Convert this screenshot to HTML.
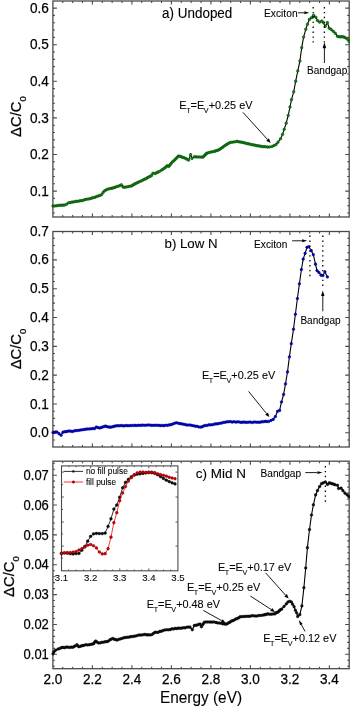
<!DOCTYPE html>
<html><head><meta charset="utf-8"><title>Capacitance spectra</title>
<style>html,body{margin:0;padding:0;background:#fff;}svg{display:block;}text{fill:#000;stroke:#000;stroke-width:0.25px;}text.a{stroke-width:0.08px;}text.t{stroke-width:0.1px;}</style></head>
<body><svg width="350" height="706" viewBox="0 0 350 706" style="font-family:'Liberation Sans',Arial,sans-serif">
<rect x="52.9" y="1.0" width="296.3" height="216.0" fill="none" stroke="#4a4a4a" stroke-width="1.3"/>
<path d="M62.77 1.0v2.0M62.77 217.0v-2.0M72.65 1.0v2.0M72.65 217.0v-2.0M82.52 1.0v2.0M82.52 217.0v-2.0M92.40 1.0v3.5M92.40 217.0v-3.5M102.28 1.0v2.0M102.28 217.0v-2.0M112.15 1.0v2.0M112.15 217.0v-2.0M122.03 1.0v2.0M122.03 217.0v-2.0M131.90 1.0v3.5M131.90 217.0v-3.5M141.78 1.0v2.0M141.78 217.0v-2.0M151.65 1.0v2.0M151.65 217.0v-2.0M161.52 1.0v2.0M161.52 217.0v-2.0M171.40 1.0v3.5M171.40 217.0v-3.5M181.27 1.0v2.0M181.27 217.0v-2.0M191.15 1.0v2.0M191.15 217.0v-2.0M201.03 1.0v2.0M201.03 217.0v-2.0M210.90 1.0v3.5M210.90 217.0v-3.5M220.78 1.0v2.0M220.78 217.0v-2.0M230.65 1.0v2.0M230.65 217.0v-2.0M240.53 1.0v2.0M240.53 217.0v-2.0M250.40 1.0v3.5M250.40 217.0v-3.5M260.27 1.0v2.0M260.27 217.0v-2.0M270.15 1.0v2.0M270.15 217.0v-2.0M280.03 1.0v2.0M280.03 217.0v-2.0M289.90 1.0v3.5M289.90 217.0v-3.5M299.77 1.0v2.0M299.77 217.0v-2.0M309.65 1.0v2.0M309.65 217.0v-2.0M319.52 1.0v2.0M319.52 217.0v-2.0M329.40 1.0v3.5M329.40 217.0v-3.5M339.28 1.0v2.0M339.28 217.0v-2.0M52.9 191.10h4M349.2 191.10h-4M52.9 154.50h4M349.2 154.50h-4M52.9 117.90h4M349.2 117.90h-4M52.9 81.30h4M349.2 81.30h-4M52.9 44.70h4M349.2 44.70h-4M52.9 8.10h4M349.2 8.10h-4M52.9 213.06h2M349.2 213.06h-2M52.9 205.74h2M349.2 205.74h-2M52.9 198.42h2M349.2 198.42h-2M52.9 183.78h2M349.2 183.78h-2M52.9 176.46h2M349.2 176.46h-2M52.9 169.14h2M349.2 169.14h-2M52.9 161.82h2M349.2 161.82h-2M52.9 147.18h2M349.2 147.18h-2M52.9 139.86h2M349.2 139.86h-2M52.9 132.54h2M349.2 132.54h-2M52.9 125.22h2M349.2 125.22h-2M52.9 110.58h2M349.2 110.58h-2M52.9 103.26h2M349.2 103.26h-2M52.9 95.94h2M349.2 95.94h-2M52.9 88.62h2M349.2 88.62h-2M52.9 73.98h2M349.2 73.98h-2M52.9 66.66h2M349.2 66.66h-2M52.9 59.34h2M349.2 59.34h-2M52.9 52.02h2M349.2 52.02h-2M52.9 37.38h2M349.2 37.38h-2M52.9 30.06h2M349.2 30.06h-2M52.9 22.74h2M349.2 22.74h-2M52.9 15.42h2M349.2 15.42h-2" stroke="#4a4a4a" stroke-width="1.1" fill="none"/>
<rect x="52.9" y="231.5" width="296.3" height="215.5" fill="none" stroke="#4a4a4a" stroke-width="1.3"/>
<path d="M62.77 231.5v2.0M62.77 447.0v-2.0M72.65 231.5v2.0M72.65 447.0v-2.0M82.52 231.5v2.0M82.52 447.0v-2.0M92.40 231.5v3.5M92.40 447.0v-3.5M102.28 231.5v2.0M102.28 447.0v-2.0M112.15 231.5v2.0M112.15 447.0v-2.0M122.03 231.5v2.0M122.03 447.0v-2.0M131.90 231.5v3.5M131.90 447.0v-3.5M141.78 231.5v2.0M141.78 447.0v-2.0M151.65 231.5v2.0M151.65 447.0v-2.0M161.52 231.5v2.0M161.52 447.0v-2.0M171.40 231.5v3.5M171.40 447.0v-3.5M181.27 231.5v2.0M181.27 447.0v-2.0M191.15 231.5v2.0M191.15 447.0v-2.0M201.03 231.5v2.0M201.03 447.0v-2.0M210.90 231.5v3.5M210.90 447.0v-3.5M220.78 231.5v2.0M220.78 447.0v-2.0M230.65 231.5v2.0M230.65 447.0v-2.0M240.53 231.5v2.0M240.53 447.0v-2.0M250.40 231.5v3.5M250.40 447.0v-3.5M260.27 231.5v2.0M260.27 447.0v-2.0M270.15 231.5v2.0M270.15 447.0v-2.0M280.03 231.5v2.0M280.03 447.0v-2.0M289.90 231.5v3.5M289.90 447.0v-3.5M299.77 231.5v2.0M299.77 447.0v-2.0M309.65 231.5v2.0M309.65 447.0v-2.0M319.52 231.5v2.0M319.52 447.0v-2.0M329.40 231.5v3.5M329.40 447.0v-3.5M339.28 231.5v2.0M339.28 447.0v-2.0M52.9 432.80h4M349.2 432.80h-4M52.9 403.98h4M349.2 403.98h-4M52.9 375.16h4M349.2 375.16h-4M52.9 346.34h4M349.2 346.34h-4M52.9 317.52h4M349.2 317.52h-4M52.9 288.70h4M349.2 288.70h-4M52.9 259.88h4M349.2 259.88h-4M52.9 440.00h2M349.2 440.00h-2M52.9 425.60h2M349.2 425.60h-2M52.9 418.39h2M349.2 418.39h-2M52.9 411.19h2M349.2 411.19h-2M52.9 396.78h2M349.2 396.78h-2M52.9 389.57h2M349.2 389.57h-2M52.9 382.37h2M349.2 382.37h-2M52.9 367.96h2M349.2 367.96h-2M52.9 360.75h2M349.2 360.75h-2M52.9 353.55h2M349.2 353.55h-2M52.9 339.13h2M349.2 339.13h-2M52.9 331.93h2M349.2 331.93h-2M52.9 324.73h2M349.2 324.73h-2M52.9 310.32h2M349.2 310.32h-2M52.9 303.11h2M349.2 303.11h-2M52.9 295.91h2M349.2 295.91h-2M52.9 281.50h2M349.2 281.50h-2M52.9 274.29h2M349.2 274.29h-2M52.9 267.09h2M349.2 267.09h-2M52.9 252.68h2M349.2 252.68h-2M52.9 245.47h2M349.2 245.47h-2M52.9 238.27h2M349.2 238.27h-2" stroke="#4a4a4a" stroke-width="1.1" fill="none"/>
<rect x="52.9" y="461.2" width="296.3" height="207.50000000000006" fill="none" stroke="#4a4a4a" stroke-width="1.3"/>
<path d="M62.77 461.2v2.0M62.77 668.7v-2.0M72.65 461.2v2.0M72.65 668.7v-2.0M82.52 461.2v2.0M82.52 668.7v-2.0M92.40 461.2v3.5M92.40 668.7v-3.5M102.28 461.2v2.0M102.28 668.7v-2.0M112.15 461.2v2.0M112.15 668.7v-2.0M122.03 461.2v2.0M122.03 668.7v-2.0M131.90 461.2v3.5M131.90 668.7v-3.5M141.78 461.2v2.0M141.78 668.7v-2.0M151.65 461.2v2.0M151.65 668.7v-2.0M161.52 461.2v2.0M161.52 668.7v-2.0M171.40 461.2v3.5M171.40 668.7v-3.5M181.27 461.2v2.0M181.27 668.7v-2.0M191.15 461.2v2.0M191.15 668.7v-2.0M201.03 461.2v2.0M201.03 668.7v-2.0M210.90 461.2v3.5M210.90 668.7v-3.5M220.78 461.2v2.0M220.78 668.7v-2.0M230.65 461.2v2.0M230.65 668.7v-2.0M240.53 461.2v2.0M240.53 668.7v-2.0M250.40 461.2v3.5M250.40 668.7v-3.5M260.27 461.2v2.0M260.27 668.7v-2.0M270.15 461.2v2.0M270.15 668.7v-2.0M280.03 461.2v2.0M280.03 668.7v-2.0M289.90 461.2v3.5M289.90 668.7v-3.5M299.77 461.2v2.0M299.77 668.7v-2.0M309.65 461.2v2.0M309.65 668.7v-2.0M319.52 461.2v2.0M319.52 668.7v-2.0M329.40 461.2v3.5M329.40 668.7v-3.5M339.28 461.2v2.0M339.28 668.7v-2.0M52.9 654.30h4M349.2 654.30h-4M52.9 624.45h4M349.2 624.45h-4M52.9 594.60h4M349.2 594.60h-4M52.9 564.75h4M349.2 564.75h-4M52.9 534.90h4M349.2 534.90h-4M52.9 505.05h4M349.2 505.05h-4M52.9 475.20h4M349.2 475.20h-4M52.9 666.24h2M349.2 666.24h-2M52.9 660.27h2M349.2 660.27h-2M52.9 648.33h2M349.2 648.33h-2M52.9 642.36h2M349.2 642.36h-2M52.9 636.39h2M349.2 636.39h-2M52.9 630.42h2M349.2 630.42h-2M52.9 618.48h2M349.2 618.48h-2M52.9 612.51h2M349.2 612.51h-2M52.9 606.54h2M349.2 606.54h-2M52.9 600.57h2M349.2 600.57h-2M52.9 588.63h2M349.2 588.63h-2M52.9 582.66h2M349.2 582.66h-2M52.9 576.69h2M349.2 576.69h-2M52.9 570.72h2M349.2 570.72h-2M52.9 558.78h2M349.2 558.78h-2M52.9 552.81h2M349.2 552.81h-2M52.9 546.84h2M349.2 546.84h-2M52.9 540.87h2M349.2 540.87h-2M52.9 528.93h2M349.2 528.93h-2M52.9 522.96h2M349.2 522.96h-2M52.9 516.99h2M349.2 516.99h-2M52.9 511.02h2M349.2 511.02h-2M52.9 499.08h2M349.2 499.08h-2M52.9 493.11h2M349.2 493.11h-2M52.9 487.14h2M349.2 487.14h-2M52.9 481.17h2M349.2 481.17h-2M52.9 469.23h2M349.2 469.23h-2M52.9 463.26h2M349.2 463.26h-2" stroke="#4a4a4a" stroke-width="1.1" fill="none"/>
<text x="48.8" y="195.70" text-anchor="end" font-size="15.2" textLength="18.9" lengthAdjust="spacingAndGlyphs">0.1</text>
<text x="48.8" y="159.10" text-anchor="end" font-size="15.2" textLength="18.9" lengthAdjust="spacingAndGlyphs">0.2</text>
<text x="48.8" y="122.50" text-anchor="end" font-size="15.2" textLength="18.9" lengthAdjust="spacingAndGlyphs">0.3</text>
<text x="48.8" y="85.90" text-anchor="end" font-size="15.2" textLength="18.9" lengthAdjust="spacingAndGlyphs">0.4</text>
<text x="48.8" y="49.30" text-anchor="end" font-size="15.2" textLength="18.9" lengthAdjust="spacingAndGlyphs">0.5</text>
<text x="48.8" y="12.70" text-anchor="end" font-size="15.2" textLength="18.9" lengthAdjust="spacingAndGlyphs">0.6</text>
<text x="48.8" y="437.40" text-anchor="end" font-size="15.2" textLength="18.9" lengthAdjust="spacingAndGlyphs">0.0</text>
<text x="48.8" y="408.58" text-anchor="end" font-size="15.2" textLength="18.9" lengthAdjust="spacingAndGlyphs">0.1</text>
<text x="48.8" y="379.76" text-anchor="end" font-size="15.2" textLength="18.9" lengthAdjust="spacingAndGlyphs">0.2</text>
<text x="48.8" y="350.94" text-anchor="end" font-size="15.2" textLength="18.9" lengthAdjust="spacingAndGlyphs">0.3</text>
<text x="48.8" y="322.12" text-anchor="end" font-size="15.2" textLength="18.9" lengthAdjust="spacingAndGlyphs">0.4</text>
<text x="48.8" y="293.30" text-anchor="end" font-size="15.2" textLength="18.9" lengthAdjust="spacingAndGlyphs">0.5</text>
<text x="48.8" y="264.48" text-anchor="end" font-size="15.2" textLength="18.9" lengthAdjust="spacingAndGlyphs">0.6</text>
<text x="48.8" y="235.66" text-anchor="end" font-size="15.2" textLength="18.9" lengthAdjust="spacingAndGlyphs">0.7</text>
<text x="48.8" y="658.90" text-anchor="end" font-size="15.2" textLength="25.2" lengthAdjust="spacingAndGlyphs">0.01</text>
<text x="48.8" y="629.05" text-anchor="end" font-size="15.2" textLength="25.2" lengthAdjust="spacingAndGlyphs">0.02</text>
<text x="48.8" y="599.20" text-anchor="end" font-size="15.2" textLength="25.2" lengthAdjust="spacingAndGlyphs">0.03</text>
<text x="48.8" y="569.35" text-anchor="end" font-size="15.2" textLength="25.2" lengthAdjust="spacingAndGlyphs">0.04</text>
<text x="48.8" y="539.50" text-anchor="end" font-size="15.2" textLength="25.2" lengthAdjust="spacingAndGlyphs">0.05</text>
<text x="48.8" y="509.65" text-anchor="end" font-size="15.2" textLength="25.2" lengthAdjust="spacingAndGlyphs">0.06</text>
<text x="48.8" y="479.80" text-anchor="end" font-size="15.2" textLength="25.2" lengthAdjust="spacingAndGlyphs">0.07</text>
<text x="52.90" y="683.8" text-anchor="middle" font-size="15.2" textLength="18.9" lengthAdjust="spacingAndGlyphs">2.0</text>
<text x="92.40" y="683.8" text-anchor="middle" font-size="15.2" textLength="18.9" lengthAdjust="spacingAndGlyphs">2.2</text>
<text x="131.90" y="683.8" text-anchor="middle" font-size="15.2" textLength="18.9" lengthAdjust="spacingAndGlyphs">2.4</text>
<text x="171.40" y="683.8" text-anchor="middle" font-size="15.2" textLength="18.9" lengthAdjust="spacingAndGlyphs">2.6</text>
<text x="210.90" y="683.8" text-anchor="middle" font-size="15.2" textLength="18.9" lengthAdjust="spacingAndGlyphs">2.8</text>
<text x="250.40" y="683.8" text-anchor="middle" font-size="15.2" textLength="18.9" lengthAdjust="spacingAndGlyphs">3.0</text>
<text x="289.90" y="683.8" text-anchor="middle" font-size="15.2" textLength="18.9" lengthAdjust="spacingAndGlyphs">3.2</text>
<text x="329.40" y="683.8" text-anchor="middle" font-size="15.2" textLength="18.9" lengthAdjust="spacingAndGlyphs">3.4</text>
<text class="t" x="160.0" y="702.9" font-size="16.2" textLength="82.0" lengthAdjust="spacingAndGlyphs">Energy (eV)</text>
<text transform="translate(21.0,116.6) rotate(-90)" text-anchor="middle" font-size="14.6" textLength="40.6" lengthAdjust="spacingAndGlyphs">&#916;C/C<tspan font-size="9.3" dy="5.3">0</tspan></text>
<text transform="translate(21.0,349.0) rotate(-90)" text-anchor="middle" font-size="14.6" textLength="40.6" lengthAdjust="spacingAndGlyphs">&#916;C/C<tspan font-size="9.3" dy="5.3">0</tspan></text>
<text transform="translate(13.5,576.6) rotate(-90)" text-anchor="middle" font-size="14.6" textLength="40.6" lengthAdjust="spacingAndGlyphs">&#916;C/C<tspan font-size="9.3" dy="5.3">0</tspan></text>
<text class="t" x="162.1" y="17.6" font-size="13.8" textLength="70.2" lengthAdjust="spacingAndGlyphs">a) Undoped</text>
<text class="t" x="164.5" y="248.3" font-size="13.4" textLength="53.1" lengthAdjust="spacingAndGlyphs">b) Low N</text>
<text class="t" x="195.7" y="478.2" font-size="13.6" textLength="50.2" lengthAdjust="spacingAndGlyphs">c) Mid N</text>
<path d="M53.00,205.99 54.67,206.00 56.33,205.78 58.00,205.43 59.62,205.37 61.25,205.23 62.88,205.17 64.50,205.09 66.50,204.28 68.60,202.76 70.30,202.60 72.00,202.08 73.60,201.94 75.20,201.47 76.80,201.36 78.40,201.21 80.00,200.82 81.67,200.65 83.33,200.25 85.00,199.61 86.67,199.22 88.33,199.00 90.00,198.73 91.67,198.13 93.33,197.65 95.00,197.28 96.62,196.53 98.25,195.97 99.88,195.41 101.50,194.80 103.00,192.62 104.50,190.92 106.00,190.02 107.50,189.19 109.25,188.79 111.00,188.36 112.33,188.20 113.67,187.72 115.00,187.34 116.60,186.61 118.20,186.25 119.80,185.61 121.40,184.79 122.90,186.85 124.30,187.37 126.08,187.01 127.85,186.73 129.62,186.23 131.40,186.00 132.60,185.25 133.80,184.44 135.00,183.83 136.45,183.16 137.90,182.40 139.57,181.60 141.23,180.93 142.90,180.06 144.32,179.37 145.75,178.79 147.18,177.92 148.60,177.10 150.05,176.36 151.50,175.56 152.90,173.25 155.00,173.56 156.43,172.85 157.87,172.14 159.30,171.48 161.40,170.21 162.83,169.20 164.27,168.26 165.70,167.16 167.10,165.76 168.60,166.46 169.53,165.44 170.47,164.23 171.40,163.07 172.60,161.80 173.80,160.70 175.00,159.64 176.20,158.38 177.40,157.11 178.60,156.01 180.03,156.29 181.45,156.85 182.88,157.46 184.30,157.82 185.73,158.55 187.17,159.26 188.60,160.11 190.60,154.64 192.00,158.45 194.30,156.79 196.02,156.88 197.74,156.98 199.46,157.01 201.18,157.11 202.90,157.11 203.95,156.09 205.00,155.03 206.05,153.89 207.10,153.11 208.90,152.62 210.70,152.11 212.50,151.80 214.30,151.40 215.73,150.89 217.17,150.42 218.60,150.01 220.02,149.08 221.44,148.11 222.86,147.11 224.28,146.02 225.70,145.12 227.13,144.17 228.57,143.36 230.00,142.51 231.78,142.24 233.55,141.99 235.32,141.74 237.10,141.33 238.70,141.80 240.30,142.05 241.84,142.23 243.38,142.58 244.92,142.93 246.46,143.52 248.00,143.72 249.54,144.02 251.08,144.52 252.62,144.77 254.16,145.03 255.70,145.40 257.27,145.76 258.85,145.90 260.43,146.18 262.00,146.56 263.88,146.66 265.75,146.80 267.62,147.02 269.50,147.06 272.00,146.47 274.00,145.48 276.00,144.61 278.00,142.18 280.50,138.82 282.50,134.40 284.20,129.31 286.20,123.13 288.20,115.50 290.00,106.96 291.50,99.66 293.70,91.79 295.70,81.17 297.80,70.90 299.90,61.06 301.70,47.65 303.60,37.11 305.80,29.32 307.50,24.24 309.40,19.39 311.70,17.60 313.60,15.22 315.80,17.24 317.40,20.47 319.60,22.12 321.80,20.95 323.40,22.74 325.20,26.37 327.40,22.64 329.20,28.24 331.00,29.31 333.20,31.24 335.30,33.31 337.50,36.34 338.85,36.73 340.20,36.87 341.55,36.77 342.90,36.73 344.30,37.20 345.70,38.01 347.80,39.56 349.20,41.50" fill="none" stroke="#000" stroke-width="1.1"/>
<g fill="#0a8a0a" stroke="#083808" stroke-width="0.5"><circle cx="53.00" cy="205.99" r="1.3"/><circle cx="54.67" cy="206.00" r="1.3"/><circle cx="56.33" cy="205.78" r="1.3"/><circle cx="58.00" cy="205.43" r="1.3"/><circle cx="59.62" cy="205.37" r="1.3"/><circle cx="61.25" cy="205.23" r="1.3"/><circle cx="62.88" cy="205.17" r="1.3"/><circle cx="64.50" cy="205.09" r="1.3"/><circle cx="66.50" cy="204.28" r="1.3"/><circle cx="68.60" cy="202.76" r="1.3"/><circle cx="70.30" cy="202.60" r="1.3"/><circle cx="72.00" cy="202.08" r="1.3"/><circle cx="73.60" cy="201.94" r="1.3"/><circle cx="75.20" cy="201.47" r="1.3"/><circle cx="76.80" cy="201.36" r="1.3"/><circle cx="78.40" cy="201.21" r="1.3"/><circle cx="80.00" cy="200.82" r="1.3"/><circle cx="81.67" cy="200.65" r="1.3"/><circle cx="83.33" cy="200.25" r="1.3"/><circle cx="85.00" cy="199.61" r="1.3"/><circle cx="86.67" cy="199.22" r="1.3"/><circle cx="88.33" cy="199.00" r="1.3"/><circle cx="90.00" cy="198.73" r="1.3"/><circle cx="91.67" cy="198.13" r="1.3"/><circle cx="93.33" cy="197.65" r="1.3"/><circle cx="95.00" cy="197.28" r="1.3"/><circle cx="96.62" cy="196.53" r="1.3"/><circle cx="98.25" cy="195.97" r="1.3"/><circle cx="99.88" cy="195.41" r="1.3"/><circle cx="101.50" cy="194.80" r="1.3"/><circle cx="103.00" cy="192.62" r="1.3"/><circle cx="104.50" cy="190.92" r="1.3"/><circle cx="106.00" cy="190.02" r="1.3"/><circle cx="107.50" cy="189.19" r="1.3"/><circle cx="109.25" cy="188.79" r="1.3"/><circle cx="111.00" cy="188.36" r="1.3"/><circle cx="112.33" cy="188.20" r="1.3"/><circle cx="113.67" cy="187.72" r="1.3"/><circle cx="115.00" cy="187.34" r="1.3"/><circle cx="116.60" cy="186.61" r="1.3"/><circle cx="118.20" cy="186.25" r="1.3"/><circle cx="119.80" cy="185.61" r="1.3"/><circle cx="121.40" cy="184.79" r="1.3"/><circle cx="122.90" cy="186.85" r="1.3"/><circle cx="124.30" cy="187.37" r="1.3"/><circle cx="126.08" cy="187.01" r="1.3"/><circle cx="127.85" cy="186.73" r="1.3"/><circle cx="129.62" cy="186.23" r="1.3"/><circle cx="131.40" cy="186.00" r="1.3"/><circle cx="132.60" cy="185.25" r="1.3"/><circle cx="133.80" cy="184.44" r="1.3"/><circle cx="135.00" cy="183.83" r="1.3"/><circle cx="136.45" cy="183.16" r="1.3"/><circle cx="137.90" cy="182.40" r="1.3"/><circle cx="139.57" cy="181.60" r="1.3"/><circle cx="141.23" cy="180.93" r="1.3"/><circle cx="142.90" cy="180.06" r="1.3"/><circle cx="144.32" cy="179.37" r="1.3"/><circle cx="145.75" cy="178.79" r="1.3"/><circle cx="147.18" cy="177.92" r="1.3"/><circle cx="148.60" cy="177.10" r="1.3"/><circle cx="150.05" cy="176.36" r="1.3"/><circle cx="151.50" cy="175.56" r="1.3"/><circle cx="152.90" cy="173.25" r="1.3"/><circle cx="155.00" cy="173.56" r="1.3"/><circle cx="156.43" cy="172.85" r="1.3"/><circle cx="157.87" cy="172.14" r="1.3"/><circle cx="159.30" cy="171.48" r="1.3"/><circle cx="161.40" cy="170.21" r="1.3"/><circle cx="162.83" cy="169.20" r="1.3"/><circle cx="164.27" cy="168.26" r="1.3"/><circle cx="165.70" cy="167.16" r="1.3"/><circle cx="167.10" cy="165.76" r="1.3"/><circle cx="168.60" cy="166.46" r="1.3"/><circle cx="169.53" cy="165.44" r="1.3"/><circle cx="170.47" cy="164.23" r="1.3"/><circle cx="171.40" cy="163.07" r="1.3"/><circle cx="172.60" cy="161.80" r="1.3"/><circle cx="173.80" cy="160.70" r="1.3"/><circle cx="175.00" cy="159.64" r="1.3"/><circle cx="176.20" cy="158.38" r="1.3"/><circle cx="177.40" cy="157.11" r="1.3"/><circle cx="178.60" cy="156.01" r="1.3"/><circle cx="180.03" cy="156.29" r="1.3"/><circle cx="181.45" cy="156.85" r="1.3"/><circle cx="182.88" cy="157.46" r="1.3"/><circle cx="184.30" cy="157.82" r="1.3"/><circle cx="185.73" cy="158.55" r="1.3"/><circle cx="187.17" cy="159.26" r="1.3"/><circle cx="188.60" cy="160.11" r="1.3"/><circle cx="190.60" cy="154.64" r="1.3"/><circle cx="192.00" cy="158.45" r="1.3"/><circle cx="194.30" cy="156.79" r="1.3"/><circle cx="196.02" cy="156.88" r="1.3"/><circle cx="197.74" cy="156.98" r="1.3"/><circle cx="199.46" cy="157.01" r="1.3"/><circle cx="201.18" cy="157.11" r="1.3"/><circle cx="202.90" cy="157.11" r="1.3"/><circle cx="203.95" cy="156.09" r="1.3"/><circle cx="205.00" cy="155.03" r="1.3"/><circle cx="206.05" cy="153.89" r="1.3"/><circle cx="207.10" cy="153.11" r="1.3"/><circle cx="208.90" cy="152.62" r="1.3"/><circle cx="210.70" cy="152.11" r="1.3"/><circle cx="212.50" cy="151.80" r="1.3"/><circle cx="214.30" cy="151.40" r="1.3"/><circle cx="215.73" cy="150.89" r="1.3"/><circle cx="217.17" cy="150.42" r="1.3"/><circle cx="218.60" cy="150.01" r="1.3"/><circle cx="220.02" cy="149.08" r="1.3"/><circle cx="221.44" cy="148.11" r="1.3"/><circle cx="222.86" cy="147.11" r="1.3"/><circle cx="224.28" cy="146.02" r="1.3"/><circle cx="225.70" cy="145.12" r="1.3"/><circle cx="227.13" cy="144.17" r="1.3"/><circle cx="228.57" cy="143.36" r="1.3"/><circle cx="230.00" cy="142.51" r="1.3"/><circle cx="231.78" cy="142.24" r="1.3"/><circle cx="233.55" cy="141.99" r="1.3"/><circle cx="235.32" cy="141.74" r="1.3"/><circle cx="237.10" cy="141.33" r="1.3"/><circle cx="238.70" cy="141.80" r="1.3"/><circle cx="240.30" cy="142.05" r="1.3"/><circle cx="241.84" cy="142.23" r="1.3"/><circle cx="243.38" cy="142.58" r="1.3"/><circle cx="244.92" cy="142.93" r="1.3"/><circle cx="246.46" cy="143.52" r="1.3"/><circle cx="248.00" cy="143.72" r="1.3"/><circle cx="249.54" cy="144.02" r="1.3"/><circle cx="251.08" cy="144.52" r="1.3"/><circle cx="252.62" cy="144.77" r="1.3"/><circle cx="254.16" cy="145.03" r="1.3"/><circle cx="255.70" cy="145.40" r="1.3"/><circle cx="257.27" cy="145.76" r="1.3"/><circle cx="258.85" cy="145.90" r="1.3"/><circle cx="260.43" cy="146.18" r="1.3"/><circle cx="262.00" cy="146.56" r="1.3"/><circle cx="263.88" cy="146.66" r="1.3"/><circle cx="265.75" cy="146.80" r="1.3"/><circle cx="267.62" cy="147.02" r="1.3"/><circle cx="269.50" cy="147.06" r="1.3"/><circle cx="272.00" cy="146.47" r="1.3"/><circle cx="274.00" cy="145.48" r="1.3"/><circle cx="276.00" cy="144.61" r="1.3"/><circle cx="278.00" cy="142.18" r="1.3"/><circle cx="280.50" cy="138.82" r="1.3"/><circle cx="282.50" cy="134.40" r="1.3"/><circle cx="284.20" cy="129.31" r="1.3"/><circle cx="286.20" cy="123.13" r="1.3"/><circle cx="288.20" cy="115.50" r="1.3"/><circle cx="290.00" cy="106.96" r="1.3"/><circle cx="291.50" cy="99.66" r="1.3"/><circle cx="293.70" cy="91.79" r="1.3"/><circle cx="295.70" cy="81.17" r="1.3"/><circle cx="297.80" cy="70.90" r="1.3"/><circle cx="299.90" cy="61.06" r="1.3"/><circle cx="301.70" cy="47.65" r="1.3"/><circle cx="303.60" cy="37.11" r="1.3"/><circle cx="305.80" cy="29.32" r="1.3"/><circle cx="307.50" cy="24.24" r="1.3"/><circle cx="309.40" cy="19.39" r="1.3"/><circle cx="311.70" cy="17.60" r="1.3"/><circle cx="313.60" cy="15.22" r="1.3"/><circle cx="315.80" cy="17.24" r="1.3"/><circle cx="317.40" cy="20.47" r="1.3"/><circle cx="319.60" cy="22.12" r="1.3"/><circle cx="321.80" cy="20.95" r="1.3"/><circle cx="323.40" cy="22.74" r="1.3"/><circle cx="325.20" cy="26.37" r="1.3"/><circle cx="327.40" cy="22.64" r="1.3"/><circle cx="329.20" cy="28.24" r="1.3"/><circle cx="331.00" cy="29.31" r="1.3"/><circle cx="333.20" cy="31.24" r="1.3"/><circle cx="335.30" cy="33.31" r="1.3"/><circle cx="337.50" cy="36.34" r="1.3"/><circle cx="338.85" cy="36.73" r="1.3"/><circle cx="340.20" cy="36.87" r="1.3"/><circle cx="341.55" cy="36.77" r="1.3"/><circle cx="342.90" cy="36.73" r="1.3"/><circle cx="344.30" cy="37.20" r="1.3"/><circle cx="345.70" cy="38.01" r="1.3"/><circle cx="347.80" cy="39.56" r="1.3"/><circle cx="349.20" cy="41.50" r="1.3"/></g>
<path d="M53.00,432.43 54.30,432.42 55.60,431.98 56.90,431.99 59.00,433.67 61.10,435.22 62.90,432.28 64.40,431.80 65.90,431.65 67.40,431.35 68.90,431.04 70.60,431.13 72.30,431.57 74.00,430.95 75.70,430.51 77.42,430.49 79.14,430.30 80.86,429.94 82.58,429.73 84.30,429.48 86.02,429.17 87.73,428.96 89.45,428.98 91.17,428.71 92.88,428.54 94.60,428.60 96.30,427.01 98.00,427.63 99.70,428.07 101.20,427.44 102.70,427.06 104.20,426.44 105.70,426.11 107.13,426.75 108.57,426.99 110.00,427.14 111.60,427.07 113.20,426.60 114.80,426.14 116.40,425.80 118.04,425.73 119.69,425.74 121.33,425.53 122.97,425.84 124.61,425.83 126.26,425.43 127.90,425.73 129.72,425.65 131.54,425.47 133.35,425.45 135.17,425.38 136.99,425.54 138.81,425.27 140.63,425.38 142.45,425.09 144.26,425.30 146.08,425.25 147.90,424.98 149.68,425.11 151.45,425.36 153.22,425.34 155.00,425.29 156.78,425.24 158.55,425.36 160.32,425.62 162.10,425.43 163.90,425.65 165.70,425.18 167.50,425.36 169.30,424.90 171.08,424.65 172.85,423.95 174.62,423.28 176.40,422.71 178.20,423.20 180.00,423.59 181.80,423.88 183.60,424.25 185.27,424.61 186.93,425.02 188.60,425.06 190.27,424.99 191.93,425.56 193.60,425.71 195.38,426.23 197.15,426.30 198.92,427.00 200.70,427.08 202.13,426.81 203.57,426.05 205.00,425.46 206.86,425.53 208.72,424.88 210.58,424.83 212.44,424.74 214.30,424.17 216.09,423.83 217.88,423.84 219.66,423.29 221.45,423.11 223.24,422.44 225.03,422.28 226.81,421.86 228.60,421.79 230.39,421.57 232.18,422.08 233.96,421.69 235.75,422.11 237.54,421.84 239.32,422.03 241.11,422.38 242.90,422.13 244.68,422.14 246.45,422.40 248.23,422.24 250.00,422.07 251.78,422.55 253.55,422.13 255.33,422.07 257.10,422.22 258.74,422.23 260.39,422.16 262.03,421.72 263.67,421.70 265.31,421.42 266.96,421.50 268.60,421.53 271.00,420.42 273.20,419.40 275.40,416.53 277.60,411.28 279.60,410.40 281.50,401.99 283.60,394.46 285.50,383.88 287.50,371.91 289.40,356.90 291.30,343.67 293.50,329.19 295.40,314.21 297.40,298.54 299.40,283.85 301.40,269.51 303.20,259.12 305.10,253.33 307.00,247.28 308.80,246.75 311.30,250.66 313.30,254.66 315.50,264.13 317.00,270.62 318.90,272.48 321.00,275.17 322.90,275.53 324.90,271.80 327.40,276.97" fill="none" stroke="#000" stroke-width="1.1"/>
<g fill="#0000e6" stroke="#000060" stroke-width="0.5"><circle cx="53.00" cy="432.43" r="1.3"/><circle cx="54.30" cy="432.42" r="1.3"/><circle cx="55.60" cy="431.98" r="1.3"/><circle cx="56.90" cy="431.99" r="1.3"/><circle cx="59.00" cy="433.67" r="1.3"/><circle cx="61.10" cy="435.22" r="1.3"/><circle cx="62.90" cy="432.28" r="1.3"/><circle cx="64.40" cy="431.80" r="1.3"/><circle cx="65.90" cy="431.65" r="1.3"/><circle cx="67.40" cy="431.35" r="1.3"/><circle cx="68.90" cy="431.04" r="1.3"/><circle cx="70.60" cy="431.13" r="1.3"/><circle cx="72.30" cy="431.57" r="1.3"/><circle cx="74.00" cy="430.95" r="1.3"/><circle cx="75.70" cy="430.51" r="1.3"/><circle cx="77.42" cy="430.49" r="1.3"/><circle cx="79.14" cy="430.30" r="1.3"/><circle cx="80.86" cy="429.94" r="1.3"/><circle cx="82.58" cy="429.73" r="1.3"/><circle cx="84.30" cy="429.48" r="1.3"/><circle cx="86.02" cy="429.17" r="1.3"/><circle cx="87.73" cy="428.96" r="1.3"/><circle cx="89.45" cy="428.98" r="1.3"/><circle cx="91.17" cy="428.71" r="1.3"/><circle cx="92.88" cy="428.54" r="1.3"/><circle cx="94.60" cy="428.60" r="1.3"/><circle cx="96.30" cy="427.01" r="1.3"/><circle cx="98.00" cy="427.63" r="1.3"/><circle cx="99.70" cy="428.07" r="1.3"/><circle cx="101.20" cy="427.44" r="1.3"/><circle cx="102.70" cy="427.06" r="1.3"/><circle cx="104.20" cy="426.44" r="1.3"/><circle cx="105.70" cy="426.11" r="1.3"/><circle cx="107.13" cy="426.75" r="1.3"/><circle cx="108.57" cy="426.99" r="1.3"/><circle cx="110.00" cy="427.14" r="1.3"/><circle cx="111.60" cy="427.07" r="1.3"/><circle cx="113.20" cy="426.60" r="1.3"/><circle cx="114.80" cy="426.14" r="1.3"/><circle cx="116.40" cy="425.80" r="1.3"/><circle cx="118.04" cy="425.73" r="1.3"/><circle cx="119.69" cy="425.74" r="1.3"/><circle cx="121.33" cy="425.53" r="1.3"/><circle cx="122.97" cy="425.84" r="1.3"/><circle cx="124.61" cy="425.83" r="1.3"/><circle cx="126.26" cy="425.43" r="1.3"/><circle cx="127.90" cy="425.73" r="1.3"/><circle cx="129.72" cy="425.65" r="1.3"/><circle cx="131.54" cy="425.47" r="1.3"/><circle cx="133.35" cy="425.45" r="1.3"/><circle cx="135.17" cy="425.38" r="1.3"/><circle cx="136.99" cy="425.54" r="1.3"/><circle cx="138.81" cy="425.27" r="1.3"/><circle cx="140.63" cy="425.38" r="1.3"/><circle cx="142.45" cy="425.09" r="1.3"/><circle cx="144.26" cy="425.30" r="1.3"/><circle cx="146.08" cy="425.25" r="1.3"/><circle cx="147.90" cy="424.98" r="1.3"/><circle cx="149.68" cy="425.11" r="1.3"/><circle cx="151.45" cy="425.36" r="1.3"/><circle cx="153.22" cy="425.34" r="1.3"/><circle cx="155.00" cy="425.29" r="1.3"/><circle cx="156.78" cy="425.24" r="1.3"/><circle cx="158.55" cy="425.36" r="1.3"/><circle cx="160.32" cy="425.62" r="1.3"/><circle cx="162.10" cy="425.43" r="1.3"/><circle cx="163.90" cy="425.65" r="1.3"/><circle cx="165.70" cy="425.18" r="1.3"/><circle cx="167.50" cy="425.36" r="1.3"/><circle cx="169.30" cy="424.90" r="1.3"/><circle cx="171.08" cy="424.65" r="1.3"/><circle cx="172.85" cy="423.95" r="1.3"/><circle cx="174.62" cy="423.28" r="1.3"/><circle cx="176.40" cy="422.71" r="1.3"/><circle cx="178.20" cy="423.20" r="1.3"/><circle cx="180.00" cy="423.59" r="1.3"/><circle cx="181.80" cy="423.88" r="1.3"/><circle cx="183.60" cy="424.25" r="1.3"/><circle cx="185.27" cy="424.61" r="1.3"/><circle cx="186.93" cy="425.02" r="1.3"/><circle cx="188.60" cy="425.06" r="1.3"/><circle cx="190.27" cy="424.99" r="1.3"/><circle cx="191.93" cy="425.56" r="1.3"/><circle cx="193.60" cy="425.71" r="1.3"/><circle cx="195.38" cy="426.23" r="1.3"/><circle cx="197.15" cy="426.30" r="1.3"/><circle cx="198.92" cy="427.00" r="1.3"/><circle cx="200.70" cy="427.08" r="1.3"/><circle cx="202.13" cy="426.81" r="1.3"/><circle cx="203.57" cy="426.05" r="1.3"/><circle cx="205.00" cy="425.46" r="1.3"/><circle cx="206.86" cy="425.53" r="1.3"/><circle cx="208.72" cy="424.88" r="1.3"/><circle cx="210.58" cy="424.83" r="1.3"/><circle cx="212.44" cy="424.74" r="1.3"/><circle cx="214.30" cy="424.17" r="1.3"/><circle cx="216.09" cy="423.83" r="1.3"/><circle cx="217.88" cy="423.84" r="1.3"/><circle cx="219.66" cy="423.29" r="1.3"/><circle cx="221.45" cy="423.11" r="1.3"/><circle cx="223.24" cy="422.44" r="1.3"/><circle cx="225.03" cy="422.28" r="1.3"/><circle cx="226.81" cy="421.86" r="1.3"/><circle cx="228.60" cy="421.79" r="1.3"/><circle cx="230.39" cy="421.57" r="1.3"/><circle cx="232.18" cy="422.08" r="1.3"/><circle cx="233.96" cy="421.69" r="1.3"/><circle cx="235.75" cy="422.11" r="1.3"/><circle cx="237.54" cy="421.84" r="1.3"/><circle cx="239.32" cy="422.03" r="1.3"/><circle cx="241.11" cy="422.38" r="1.3"/><circle cx="242.90" cy="422.13" r="1.3"/><circle cx="244.68" cy="422.14" r="1.3"/><circle cx="246.45" cy="422.40" r="1.3"/><circle cx="248.23" cy="422.24" r="1.3"/><circle cx="250.00" cy="422.07" r="1.3"/><circle cx="251.78" cy="422.55" r="1.3"/><circle cx="253.55" cy="422.13" r="1.3"/><circle cx="255.33" cy="422.07" r="1.3"/><circle cx="257.10" cy="422.22" r="1.3"/><circle cx="258.74" cy="422.23" r="1.3"/><circle cx="260.39" cy="422.16" r="1.3"/><circle cx="262.03" cy="421.72" r="1.3"/><circle cx="263.67" cy="421.70" r="1.3"/><circle cx="265.31" cy="421.42" r="1.3"/><circle cx="266.96" cy="421.50" r="1.3"/><circle cx="268.60" cy="421.53" r="1.3"/><circle cx="271.00" cy="420.42" r="1.3"/><circle cx="273.20" cy="419.40" r="1.3"/><circle cx="275.40" cy="416.53" r="1.3"/><circle cx="277.60" cy="411.28" r="1.3"/><circle cx="279.60" cy="410.40" r="1.3"/><circle cx="281.50" cy="401.99" r="1.3"/><circle cx="283.60" cy="394.46" r="1.3"/><circle cx="285.50" cy="383.88" r="1.3"/><circle cx="287.50" cy="371.91" r="1.3"/><circle cx="289.40" cy="356.90" r="1.3"/><circle cx="291.30" cy="343.67" r="1.3"/><circle cx="293.50" cy="329.19" r="1.3"/><circle cx="295.40" cy="314.21" r="1.3"/><circle cx="297.40" cy="298.54" r="1.3"/><circle cx="299.40" cy="283.85" r="1.3"/><circle cx="301.40" cy="269.51" r="1.3"/><circle cx="303.20" cy="259.12" r="1.3"/><circle cx="305.10" cy="253.33" r="1.3"/><circle cx="307.00" cy="247.28" r="1.3"/><circle cx="308.80" cy="246.75" r="1.3"/><circle cx="311.30" cy="250.66" r="1.3"/><circle cx="313.30" cy="254.66" r="1.3"/><circle cx="315.50" cy="264.13" r="1.3"/><circle cx="317.00" cy="270.62" r="1.3"/><circle cx="318.90" cy="272.48" r="1.3"/><circle cx="321.00" cy="275.17" r="1.3"/><circle cx="322.90" cy="275.53" r="1.3"/><circle cx="324.90" cy="271.80" r="1.3"/><circle cx="327.40" cy="276.97" r="1.3"/></g>
<path d="M53.00,653.84 54.00,651.83 55.50,650.22 58.00,649.06 59.70,648.53 61.40,647.64 62.93,647.41 64.47,647.70 66.00,647.16 67.72,647.09 69.45,647.50 71.18,647.13 72.90,647.30 74.30,646.35 75.70,645.72 77.10,644.69 78.60,646.68 80.02,646.45 81.45,645.86 82.88,645.62 84.30,645.20 86.02,644.68 87.74,644.93 89.46,644.67 91.18,644.34 92.90,644.02 93.83,643.39 94.77,642.02 95.70,641.03 97.15,642.13 98.60,643.03 100.30,642.85 102.00,642.24 103.70,642.18 105.40,641.67 107.10,641.66 108.55,640.93 110.00,639.76 111.45,639.08 112.90,638.43 114.30,639.35 115.70,639.50 117.10,640.08 118.90,639.31 120.70,638.85 122.50,638.21 124.30,637.61 125.93,637.47 127.56,637.18 129.19,637.09 130.81,636.67 132.44,636.53 134.07,636.20 135.70,635.99 137.42,635.52 139.14,634.94 140.86,635.08 142.58,634.86 144.30,634.54 145.73,634.57 147.17,634.89 148.60,634.83 150.30,634.95 152.00,634.54 153.50,633.37 155.00,632.24 156.67,632.41 158.33,632.19 160.00,631.35 161.50,631.23 163.00,630.45 164.87,629.99 166.73,629.78 168.60,629.76 170.23,629.60 171.86,628.87 173.49,628.98 175.11,628.41 176.74,628.59 178.37,628.13 180.00,628.23 181.67,628.14 183.33,627.70 185.00,627.85 186.67,627.29 188.33,627.00 190.00,627.16 192.30,629.72 194.30,625.52 195.73,625.29 197.15,625.07 198.57,624.44 200.00,624.03 201.40,626.82 202.37,624.95 203.33,623.81 204.30,622.24 205.97,621.93 207.63,621.98 209.30,622.01 210.97,622.09 212.63,622.06 214.30,622.04 216.02,622.41 217.74,622.94 219.46,623.02 221.18,623.32 222.90,623.83 224.30,623.84 225.70,624.18 227.12,623.86 228.55,622.86 229.97,622.15 231.40,621.11 232.83,620.63 234.27,620.01 235.70,618.96 237.13,618.60 238.57,617.90 240.00,616.84 241.40,616.68 243.12,616.49 244.84,616.53 246.56,616.24 248.28,616.36 250.00,616.29 251.72,615.77 253.44,615.71 255.16,615.99 256.88,616.07 258.60,615.55 260.40,615.44 262.20,615.29 264.00,614.89 265.33,614.59 266.67,614.22 268.00,613.92 269.70,614.21 271.40,614.18 273.15,613.93 274.90,613.86 276.03,612.75 277.17,612.41 278.30,611.84 279.43,610.65 280.57,609.67 281.70,609.08 284.00,606.44 286.30,603.91 288.00,601.96 289.70,601.22 291.40,601.96 292.60,604.19 294.10,606.70 295.40,610.20 296.60,612.86 297.70,616.51 299.80,614.60 301.90,605.90 303.90,587.69 305.70,567.93 307.40,547.67 309.50,529.54 311.50,514.97 313.40,504.82 315.60,494.91 317.50,490.58 319.60,486.60 321.60,483.61 323.30,482.87 325.40,481.98 327.50,484.39 329.30,482.88 330.70,483.21 332.10,483.68 333.55,484.13 335.00,484.78 337.50,485.26 338.60,488.51 341.10,488.15 342.90,490.65 345.00,493.15 347.10,494.85 348.80,496.59" fill="none" stroke="#000" stroke-width="1.1"/>
<g fill="#111" stroke="#000" stroke-width="0.5"><circle cx="53.00" cy="653.84" r="1.3"/><circle cx="54.00" cy="651.83" r="1.3"/><circle cx="55.50" cy="650.22" r="1.3"/><circle cx="58.00" cy="649.06" r="1.3"/><circle cx="59.70" cy="648.53" r="1.3"/><circle cx="61.40" cy="647.64" r="1.3"/><circle cx="62.93" cy="647.41" r="1.3"/><circle cx="64.47" cy="647.70" r="1.3"/><circle cx="66.00" cy="647.16" r="1.3"/><circle cx="67.72" cy="647.09" r="1.3"/><circle cx="69.45" cy="647.50" r="1.3"/><circle cx="71.18" cy="647.13" r="1.3"/><circle cx="72.90" cy="647.30" r="1.3"/><circle cx="74.30" cy="646.35" r="1.3"/><circle cx="75.70" cy="645.72" r="1.3"/><circle cx="77.10" cy="644.69" r="1.3"/><circle cx="78.60" cy="646.68" r="1.3"/><circle cx="80.02" cy="646.45" r="1.3"/><circle cx="81.45" cy="645.86" r="1.3"/><circle cx="82.88" cy="645.62" r="1.3"/><circle cx="84.30" cy="645.20" r="1.3"/><circle cx="86.02" cy="644.68" r="1.3"/><circle cx="87.74" cy="644.93" r="1.3"/><circle cx="89.46" cy="644.67" r="1.3"/><circle cx="91.18" cy="644.34" r="1.3"/><circle cx="92.90" cy="644.02" r="1.3"/><circle cx="93.83" cy="643.39" r="1.3"/><circle cx="94.77" cy="642.02" r="1.3"/><circle cx="95.70" cy="641.03" r="1.3"/><circle cx="97.15" cy="642.13" r="1.3"/><circle cx="98.60" cy="643.03" r="1.3"/><circle cx="100.30" cy="642.85" r="1.3"/><circle cx="102.00" cy="642.24" r="1.3"/><circle cx="103.70" cy="642.18" r="1.3"/><circle cx="105.40" cy="641.67" r="1.3"/><circle cx="107.10" cy="641.66" r="1.3"/><circle cx="108.55" cy="640.93" r="1.3"/><circle cx="110.00" cy="639.76" r="1.3"/><circle cx="111.45" cy="639.08" r="1.3"/><circle cx="112.90" cy="638.43" r="1.3"/><circle cx="114.30" cy="639.35" r="1.3"/><circle cx="115.70" cy="639.50" r="1.3"/><circle cx="117.10" cy="640.08" r="1.3"/><circle cx="118.90" cy="639.31" r="1.3"/><circle cx="120.70" cy="638.85" r="1.3"/><circle cx="122.50" cy="638.21" r="1.3"/><circle cx="124.30" cy="637.61" r="1.3"/><circle cx="125.93" cy="637.47" r="1.3"/><circle cx="127.56" cy="637.18" r="1.3"/><circle cx="129.19" cy="637.09" r="1.3"/><circle cx="130.81" cy="636.67" r="1.3"/><circle cx="132.44" cy="636.53" r="1.3"/><circle cx="134.07" cy="636.20" r="1.3"/><circle cx="135.70" cy="635.99" r="1.3"/><circle cx="137.42" cy="635.52" r="1.3"/><circle cx="139.14" cy="634.94" r="1.3"/><circle cx="140.86" cy="635.08" r="1.3"/><circle cx="142.58" cy="634.86" r="1.3"/><circle cx="144.30" cy="634.54" r="1.3"/><circle cx="145.73" cy="634.57" r="1.3"/><circle cx="147.17" cy="634.89" r="1.3"/><circle cx="148.60" cy="634.83" r="1.3"/><circle cx="150.30" cy="634.95" r="1.3"/><circle cx="152.00" cy="634.54" r="1.3"/><circle cx="153.50" cy="633.37" r="1.3"/><circle cx="155.00" cy="632.24" r="1.3"/><circle cx="156.67" cy="632.41" r="1.3"/><circle cx="158.33" cy="632.19" r="1.3"/><circle cx="160.00" cy="631.35" r="1.3"/><circle cx="161.50" cy="631.23" r="1.3"/><circle cx="163.00" cy="630.45" r="1.3"/><circle cx="164.87" cy="629.99" r="1.3"/><circle cx="166.73" cy="629.78" r="1.3"/><circle cx="168.60" cy="629.76" r="1.3"/><circle cx="170.23" cy="629.60" r="1.3"/><circle cx="171.86" cy="628.87" r="1.3"/><circle cx="173.49" cy="628.98" r="1.3"/><circle cx="175.11" cy="628.41" r="1.3"/><circle cx="176.74" cy="628.59" r="1.3"/><circle cx="178.37" cy="628.13" r="1.3"/><circle cx="180.00" cy="628.23" r="1.3"/><circle cx="181.67" cy="628.14" r="1.3"/><circle cx="183.33" cy="627.70" r="1.3"/><circle cx="185.00" cy="627.85" r="1.3"/><circle cx="186.67" cy="627.29" r="1.3"/><circle cx="188.33" cy="627.00" r="1.3"/><circle cx="190.00" cy="627.16" r="1.3"/><circle cx="192.30" cy="629.72" r="1.3"/><circle cx="194.30" cy="625.52" r="1.3"/><circle cx="195.73" cy="625.29" r="1.3"/><circle cx="197.15" cy="625.07" r="1.3"/><circle cx="198.57" cy="624.44" r="1.3"/><circle cx="200.00" cy="624.03" r="1.3"/><circle cx="201.40" cy="626.82" r="1.3"/><circle cx="202.37" cy="624.95" r="1.3"/><circle cx="203.33" cy="623.81" r="1.3"/><circle cx="204.30" cy="622.24" r="1.3"/><circle cx="205.97" cy="621.93" r="1.3"/><circle cx="207.63" cy="621.98" r="1.3"/><circle cx="209.30" cy="622.01" r="1.3"/><circle cx="210.97" cy="622.09" r="1.3"/><circle cx="212.63" cy="622.06" r="1.3"/><circle cx="214.30" cy="622.04" r="1.3"/><circle cx="216.02" cy="622.41" r="1.3"/><circle cx="217.74" cy="622.94" r="1.3"/><circle cx="219.46" cy="623.02" r="1.3"/><circle cx="221.18" cy="623.32" r="1.3"/><circle cx="222.90" cy="623.83" r="1.3"/><circle cx="224.30" cy="623.84" r="1.3"/><circle cx="225.70" cy="624.18" r="1.3"/><circle cx="227.12" cy="623.86" r="1.3"/><circle cx="228.55" cy="622.86" r="1.3"/><circle cx="229.97" cy="622.15" r="1.3"/><circle cx="231.40" cy="621.11" r="1.3"/><circle cx="232.83" cy="620.63" r="1.3"/><circle cx="234.27" cy="620.01" r="1.3"/><circle cx="235.70" cy="618.96" r="1.3"/><circle cx="237.13" cy="618.60" r="1.3"/><circle cx="238.57" cy="617.90" r="1.3"/><circle cx="240.00" cy="616.84" r="1.3"/><circle cx="241.40" cy="616.68" r="1.3"/><circle cx="243.12" cy="616.49" r="1.3"/><circle cx="244.84" cy="616.53" r="1.3"/><circle cx="246.56" cy="616.24" r="1.3"/><circle cx="248.28" cy="616.36" r="1.3"/><circle cx="250.00" cy="616.29" r="1.3"/><circle cx="251.72" cy="615.77" r="1.3"/><circle cx="253.44" cy="615.71" r="1.3"/><circle cx="255.16" cy="615.99" r="1.3"/><circle cx="256.88" cy="616.07" r="1.3"/><circle cx="258.60" cy="615.55" r="1.3"/><circle cx="260.40" cy="615.44" r="1.3"/><circle cx="262.20" cy="615.29" r="1.3"/><circle cx="264.00" cy="614.89" r="1.3"/><circle cx="265.33" cy="614.59" r="1.3"/><circle cx="266.67" cy="614.22" r="1.3"/><circle cx="268.00" cy="613.92" r="1.3"/><circle cx="269.70" cy="614.21" r="1.3"/><circle cx="271.40" cy="614.18" r="1.3"/><circle cx="273.15" cy="613.93" r="1.3"/><circle cx="274.90" cy="613.86" r="1.3"/><circle cx="276.03" cy="612.75" r="1.3"/><circle cx="277.17" cy="612.41" r="1.3"/><circle cx="278.30" cy="611.84" r="1.3"/><circle cx="279.43" cy="610.65" r="1.3"/><circle cx="280.57" cy="609.67" r="1.3"/><circle cx="281.70" cy="609.08" r="1.3"/><circle cx="284.00" cy="606.44" r="1.3"/><circle cx="286.30" cy="603.91" r="1.3"/><circle cx="288.00" cy="601.96" r="1.3"/><circle cx="289.70" cy="601.22" r="1.3"/><circle cx="291.40" cy="601.96" r="1.3"/><circle cx="292.60" cy="604.19" r="1.3"/><circle cx="294.10" cy="606.70" r="1.3"/><circle cx="295.40" cy="610.20" r="1.3"/><circle cx="296.60" cy="612.86" r="1.3"/><circle cx="297.70" cy="616.51" r="1.3"/><circle cx="299.80" cy="614.60" r="1.3"/><circle cx="301.90" cy="605.90" r="1.3"/><circle cx="303.90" cy="587.69" r="1.3"/><circle cx="305.70" cy="567.93" r="1.3"/><circle cx="307.40" cy="547.67" r="1.3"/><circle cx="309.50" cy="529.54" r="1.3"/><circle cx="311.50" cy="514.97" r="1.3"/><circle cx="313.40" cy="504.82" r="1.3"/><circle cx="315.60" cy="494.91" r="1.3"/><circle cx="317.50" cy="490.58" r="1.3"/><circle cx="319.60" cy="486.60" r="1.3"/><circle cx="321.60" cy="483.61" r="1.3"/><circle cx="323.30" cy="482.87" r="1.3"/><circle cx="325.40" cy="481.98" r="1.3"/><circle cx="327.50" cy="484.39" r="1.3"/><circle cx="329.30" cy="482.88" r="1.3"/><circle cx="330.70" cy="483.21" r="1.3"/><circle cx="332.10" cy="483.68" r="1.3"/><circle cx="333.55" cy="484.13" r="1.3"/><circle cx="335.00" cy="484.78" r="1.3"/><circle cx="337.50" cy="485.26" r="1.3"/><circle cx="338.60" cy="488.51" r="1.3"/><circle cx="341.10" cy="488.15" r="1.3"/><circle cx="342.90" cy="490.65" r="1.3"/><circle cx="345.00" cy="493.15" r="1.3"/><circle cx="347.10" cy="494.85" r="1.3"/><circle cx="348.80" cy="496.59" r="1.3"/></g>
<text class="a" x="179.29999999999998" y="108.9" font-size="11.2" textLength="73.2" lengthAdjust="spacingAndGlyphs">E<tspan font-size="7.4" dy="4" dx="-0.4">T</tspan><tspan dy="-4">=E</tspan><tspan font-size="7.4" dy="4" dx="-0.3">V</tspan><tspan dy="-4">+0.25 eV</tspan></text>
<line x1="242.9" y1="112.3" x2="267.58" y2="139.56" stroke="#000" stroke-width="0.9"/>
<polygon points="270.60,142.90 266.25,140.77 268.91,138.36" fill="#000"/>
<text class="a" x="264.0" y="16.8" font-size="10.6" textLength="33.6" lengthAdjust="spacingAndGlyphs">Exciton</text>
<line x1="297.9" y1="12.8" x2="304.30" y2="12.80" stroke="#000" stroke-width="0.9"/>
<polygon points="309.30,12.80 304.30,14.30 304.30,11.30" fill="#000"/>
<line x1="313.2" y1="7.0" x2="313.2" y2="42.5" stroke="#000" stroke-width="1.3" stroke-dasharray="1.4 3.5"/>
<line x1="324.4" y1="7.0" x2="324.4" y2="42.5" stroke="#000" stroke-width="1.3" stroke-dasharray="1.4 3.5"/>
<line x1="324.4" y1="63" x2="324.40" y2="48.20" stroke="#000" stroke-width="0.9"/>
<polygon points="324.40,42.20 326.20,48.20 322.60,48.20" fill="#000"/>
<text class="a" x="307.1" y="74.3" font-size="10.8" textLength="40.2" lengthAdjust="spacingAndGlyphs">Bandgap</text>
<text class="a" x="202.0" y="379.1" font-size="11.2" textLength="73.2" lengthAdjust="spacingAndGlyphs">E<tspan font-size="7.4" dy="4" dx="-0.4">T</tspan><tspan dy="-4">=E</tspan><tspan font-size="7.4" dy="4" dx="-0.3">V</tspan><tspan dy="-4">+0.25 eV</tspan></text>
<line x1="248.6" y1="391.4" x2="266.57" y2="413.60" stroke="#000" stroke-width="0.9"/>
<polygon points="269.40,417.10 265.17,414.73 267.97,412.47" fill="#000"/>
<text class="a" x="254.1" y="247.8" font-size="10.6" textLength="33.2" lengthAdjust="spacingAndGlyphs">Exciton</text>
<line x1="292.1" y1="240.8" x2="302.20" y2="240.80" stroke="#000" stroke-width="0.9"/>
<polygon points="307.20,240.80 302.20,242.30 302.20,239.30" fill="#000"/>
<line x1="309.9" y1="235.60000000000002" x2="309.9" y2="276.5" stroke="#000" stroke-width="1.3" stroke-dasharray="1.4 3.5"/>
<line x1="322.8" y1="235.60000000000002" x2="322.8" y2="286.0" stroke="#000" stroke-width="1.3" stroke-dasharray="1.4 3.5"/>
<line x1="322.8" y1="311.3" x2="322.80" y2="295.90" stroke="#000" stroke-width="0.9"/>
<polygon points="322.80,290.40 324.50,295.90 321.10,295.90" fill="#000"/>
<text class="a" x="300.4" y="323.5" font-size="10.8" textLength="40.2" lengthAdjust="spacingAndGlyphs">Bandgap</text>
<text class="a" x="260.6" y="477.4" font-size="10.5" textLength="40.5" lengthAdjust="spacingAndGlyphs">Bandgap</text>
<line x1="305.3" y1="472.6" x2="317.50" y2="472.60" stroke="#000" stroke-width="0.9"/>
<polygon points="322.50,472.60 317.50,474.00 317.50,471.20" fill="#000"/>
<line x1="325.4" y1="466.0" x2="325.4" y2="501.8" stroke="#000" stroke-width="1.3" stroke-dasharray="1.4 3.5"/>
<text class="a" x="218.0" y="570.7" font-size="11.2" textLength="73.2" lengthAdjust="spacingAndGlyphs">E<tspan font-size="7.4" dy="4" dx="-0.4">T</tspan><tspan dy="-4">=E</tspan><tspan font-size="7.4" dy="4" dx="-0.3">V</tspan><tspan dy="-4">+0.17 eV</tspan></text>
<line x1="265.7" y1="572.9" x2="285.61" y2="595.24" stroke="#000" stroke-width="0.9"/>
<polygon points="288.60,598.60 284.26,596.44 286.95,594.04" fill="#000"/>
<text class="a" x="187.0" y="590.9" font-size="11.2" textLength="73.2" lengthAdjust="spacingAndGlyphs">E<tspan font-size="7.4" dy="4" dx="-0.4">T</tspan><tspan dy="-4">=E</tspan><tspan font-size="7.4" dy="4" dx="-0.3">V</tspan><tspan dy="-4">+0.25 eV</tspan></text>
<line x1="250.3" y1="596" x2="271.22" y2="609.55" stroke="#000" stroke-width="0.9"/>
<polygon points="275.00,612.00 270.24,611.06 272.20,608.04" fill="#000"/>
<text class="a" x="146.79999999999998" y="608.3" font-size="11.2" textLength="73.2" lengthAdjust="spacingAndGlyphs">E<tspan font-size="7.4" dy="4" dx="-0.4">T</tspan><tspan dy="-4">=E</tspan><tspan font-size="7.4" dy="4" dx="-0.3">V</tspan><tspan dy="-4">+0.48 eV</tspan></text>
<line x1="203.3" y1="610.4" x2="221.77" y2="620.71" stroke="#000" stroke-width="0.9"/>
<polygon points="225.70,622.90 220.89,622.28 222.65,619.14" fill="#000"/>
<text class="a" x="263.2" y="642.4" font-size="11.2" textLength="73.2" lengthAdjust="spacingAndGlyphs">E<tspan font-size="7.4" dy="4" dx="-0.4">T</tspan><tspan dy="-4">=E</tspan><tspan font-size="7.4" dy="4" dx="-0.3">V</tspan><tspan dy="-4">+0.12 eV</tspan></text>
<line x1="305" y1="631.4" x2="301.35" y2="624.58" stroke="#000" stroke-width="0.9"/>
<polygon points="298.90,620.00 302.68,623.88 300.03,625.29" fill="#000"/>
<rect x="61.5" y="465.9" width="116.4" height="104.89999999999998" fill="#fff" stroke="#4a4a4a" stroke-width="1.1"/>
<path d="M68.78 465.9v1.3M68.78 570.8v-1.3M76.06 465.9v1.3M76.06 570.8v-1.3M83.34 465.9v1.3M83.34 570.8v-1.3M90.63 465.9v2.4M90.63 570.8v-2.4M97.91 465.9v1.3M97.91 570.8v-1.3M105.19 465.9v1.3M105.19 570.8v-1.3M112.47 465.9v1.3M112.47 570.8v-1.3M119.75 465.9v2.4M119.75 570.8v-2.4M127.03 465.9v1.3M127.03 570.8v-1.3M134.31 465.9v1.3M134.31 570.8v-1.3M141.59 465.9v1.3M141.59 570.8v-1.3M148.88 465.9v2.4M148.88 570.8v-2.4M156.16 465.9v1.3M156.16 570.8v-1.3M163.44 465.9v1.3M163.44 570.8v-1.3M170.72 465.9v1.3M170.72 570.8v-1.3M61.5 472.1h2.4M177.9 472.1h-2.4M61.5 484.6h1.5M61.5 497h2.4M177.9 497h-2.4M61.5 509.5h1.5M61.5 522h2.4M177.9 522h-2.4M61.5 534h1.5M61.5 546.1h2.4M177.9 546.1h-2.4M61.5 558.2h1.5" stroke="#4a4a4a" stroke-width="0.9" fill="none"/>
<text class="a" x="61.50" y="581.3" text-anchor="middle" font-size="9.6">3.1</text>
<text class="a" x="90.63" y="581.3" text-anchor="middle" font-size="9.6">3.2</text>
<text class="a" x="119.75" y="581.3" text-anchor="middle" font-size="9.6">3.3</text>
<text class="a" x="148.88" y="581.3" text-anchor="middle" font-size="9.6">3.4</text>
<text class="a" x="178.00" y="581.3" text-anchor="middle" font-size="9.6">3.5</text>
<path d="M61.50,553.60 64.41,553.02 67.32,553.17 70.23,553.65 73.14,553.89 76.05,553.60 78.96,553.40 81.87,550.13 84.78,546.54 87.69,541.16 90.60,536.40 93.51,533.90 96.42,533.42 99.33,533.57 102.24,533.60 105.15,533.10 108.06,526.46 110.97,518.80 113.88,509.12 116.79,505.03 119.70,497.28 122.61,487.78 125.52,482.41 128.43,479.23 131.34,476.77 134.25,474.94 137.16,474.21 140.07,473.79 142.98,473.45 145.89,473.02 148.80,472.58 151.71,472.66 154.62,473.31 157.53,474.76 160.44,476.59 163.35,478.41 166.26,480.13 169.17,481.58 172.08,482.83 174.99,483.88" fill="none" stroke="#000" stroke-width="0.8"/>
<g fill="#111" stroke="#000" stroke-width="0.5"><circle cx="61.50" cy="553.60" r="1.35"/><circle cx="64.41" cy="553.02" r="1.35"/><circle cx="67.32" cy="553.17" r="1.35"/><circle cx="70.23" cy="553.65" r="1.35"/><circle cx="73.14" cy="553.89" r="1.35"/><circle cx="76.05" cy="553.60" r="1.35"/><circle cx="78.96" cy="553.40" r="1.35"/><circle cx="81.87" cy="550.13" r="1.35"/><circle cx="84.78" cy="546.54" r="1.35"/><circle cx="87.69" cy="541.16" r="1.35"/><circle cx="90.60" cy="536.40" r="1.35"/><circle cx="93.51" cy="533.90" r="1.35"/><circle cx="96.42" cy="533.42" r="1.35"/><circle cx="99.33" cy="533.57" r="1.35"/><circle cx="102.24" cy="533.60" r="1.35"/><circle cx="105.15" cy="533.10" r="1.35"/><circle cx="108.06" cy="526.46" r="1.35"/><circle cx="110.97" cy="518.80" r="1.35"/><circle cx="113.88" cy="509.12" r="1.35"/><circle cx="116.79" cy="505.03" r="1.35"/><circle cx="119.70" cy="497.28" r="1.35"/><circle cx="122.61" cy="487.78" r="1.35"/><circle cx="125.52" cy="482.41" r="1.35"/><circle cx="128.43" cy="479.23" r="1.35"/><circle cx="131.34" cy="476.77" r="1.35"/><circle cx="134.25" cy="474.94" r="1.35"/><circle cx="137.16" cy="474.21" r="1.35"/><circle cx="140.07" cy="473.79" r="1.35"/><circle cx="142.98" cy="473.45" r="1.35"/><circle cx="145.89" cy="473.02" r="1.35"/><circle cx="148.80" cy="472.58" r="1.35"/><circle cx="151.71" cy="472.66" r="1.35"/><circle cx="154.62" cy="473.31" r="1.35"/><circle cx="157.53" cy="474.76" r="1.35"/><circle cx="160.44" cy="476.59" r="1.35"/><circle cx="163.35" cy="478.41" r="1.35"/><circle cx="166.26" cy="480.13" r="1.35"/><circle cx="169.17" cy="481.58" r="1.35"/><circle cx="172.08" cy="482.83" r="1.35"/><circle cx="174.99" cy="483.88" r="1.35"/></g>
<path d="M61.50,553.00 64.41,552.78 67.32,552.63 70.23,552.49 73.14,552.17 76.05,551.57 78.96,550.02 81.87,548.66 84.78,547.12 87.69,545.21 90.60,544.48 93.51,545.74 96.42,547.94 99.33,551.98 102.24,553.91 105.15,553.66 108.06,548.68 110.97,537.13 113.88,522.70 116.79,512.72 119.70,500.74 122.61,493.03 125.52,486.62 128.43,481.06 131.34,477.66 134.25,475.05 137.16,472.96 140.07,472.19 142.98,472.10 145.89,472.39 148.80,472.12 151.71,472.17 154.62,472.65 157.53,473.81 160.44,474.61 163.35,475.34 166.26,476.10 169.17,477.27 172.08,478.02 174.99,478.74" fill="none" stroke="#f00" stroke-width="0.8"/>
<g fill="#d00" stroke="#600" stroke-width="0.5"><circle cx="61.50" cy="553.00" r="1.35"/><circle cx="64.41" cy="552.78" r="1.35"/><circle cx="67.32" cy="552.63" r="1.35"/><circle cx="70.23" cy="552.49" r="1.35"/><circle cx="73.14" cy="552.17" r="1.35"/><circle cx="76.05" cy="551.57" r="1.35"/><circle cx="78.96" cy="550.02" r="1.35"/><circle cx="81.87" cy="548.66" r="1.35"/><circle cx="84.78" cy="547.12" r="1.35"/><circle cx="87.69" cy="545.21" r="1.35"/><circle cx="90.60" cy="544.48" r="1.35"/><circle cx="93.51" cy="545.74" r="1.35"/><circle cx="96.42" cy="547.94" r="1.35"/><circle cx="99.33" cy="551.98" r="1.35"/><circle cx="102.24" cy="553.91" r="1.35"/><circle cx="105.15" cy="553.66" r="1.35"/><circle cx="108.06" cy="548.68" r="1.35"/><circle cx="110.97" cy="537.13" r="1.35"/><circle cx="113.88" cy="522.70" r="1.35"/><circle cx="116.79" cy="512.72" r="1.35"/><circle cx="119.70" cy="500.74" r="1.35"/><circle cx="122.61" cy="493.03" r="1.35"/><circle cx="125.52" cy="486.62" r="1.35"/><circle cx="128.43" cy="481.06" r="1.35"/><circle cx="131.34" cy="477.66" r="1.35"/><circle cx="134.25" cy="475.05" r="1.35"/><circle cx="137.16" cy="472.96" r="1.35"/><circle cx="140.07" cy="472.19" r="1.35"/><circle cx="142.98" cy="472.10" r="1.35"/><circle cx="145.89" cy="472.39" r="1.35"/><circle cx="148.80" cy="472.12" r="1.35"/><circle cx="151.71" cy="472.17" r="1.35"/><circle cx="154.62" cy="472.65" r="1.35"/><circle cx="157.53" cy="473.81" r="1.35"/><circle cx="160.44" cy="474.61" r="1.35"/><circle cx="163.35" cy="475.34" r="1.35"/><circle cx="166.26" cy="476.10" r="1.35"/><circle cx="169.17" cy="477.27" r="1.35"/><circle cx="172.08" cy="478.02" r="1.35"/><circle cx="174.99" cy="478.74" r="1.35"/></g>
<line x1="63.7" y1="471.4" x2="83.1" y2="471.4" stroke="#000" stroke-width="0.8"/><circle cx="73.4" cy="471.4" r="1.2" fill="#111"/>
<line x1="63.7" y1="482" x2="83.1" y2="482" stroke="#f00" stroke-width="0.8"/><circle cx="73.4" cy="482" r="1.2" fill="#c00" stroke="#600" stroke-width="0.5"/>
<text class="a" x="85.9" y="474.4" font-size="8.4">no fill pulse</text>
<text class="a" x="85.9" y="485" font-size="8.4">fill pulse</text>
</svg></body></html>
